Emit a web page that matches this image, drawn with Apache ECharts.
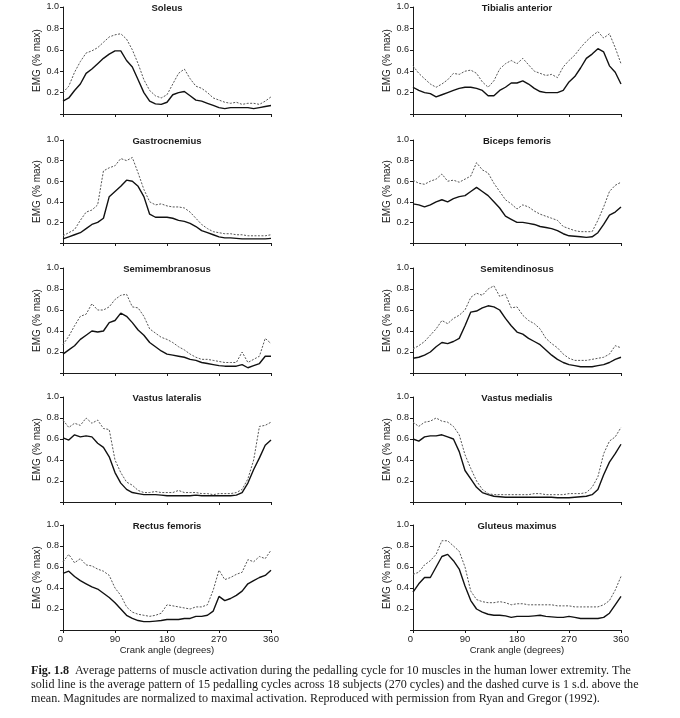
<!DOCTYPE html>
<html><head><meta charset="utf-8">
<script src="https://cdn.jsdelivr.net/npm/echarts@6/dist/echarts.min.js"></script>
<style>html,body{margin:0;padding:0;background:#fff}#c{width:680px;height:718px}</style>
</head><body><div id="c"></div>
<script>
// crank angles (degrees)
const angles = [0,10,20,30,40,50,60,70,80,90,100,110,120,130,140,150,160,170,180,190,200,210,220,230,240,250,260,270,280,290,300,310,320,330,340,350,360];
const xTicks = [0,90,180,270,360];
const yTicks = [0.2,0.4,0.6,0.8,1.0];

const soleusMean = [0.12,0.15,0.22,0.28,0.38,0.42,0.47,0.52,0.56,0.59, 0.59,0.50,0.44,0.32,0.20,0.12,0.095,0.09,0.11,0.18, 0.20,0.21,0.17,0.13,0.12,0.10,0.08,0.06,0.05,0.06, 0.06,0.06,0.06,0.05,0.06,0.07,0.08];
const soleusSD = [0.20,0.26,0.39,0.49,0.57,0.59,0.62,0.67,0.72,0.74, 0.75,0.70,0.60,0.47,0.32,0.22,0.17,0.15,0.18,0.28, 0.38,0.42,0.33,0.26,0.24,0.20,0.15,0.13,0.11,0.10, 0.11,0.09,0.10,0.10,0.09,0.12,0.16];

const tibialisMean = [0.25,0.22,0.20,0.19,0.16,0.18,0.20,0.22,0.24,0.25, 0.25,0.24,0.22,0.17,0.17,0.22,0.25,0.29,0.29,0.31, 0.28,0.24,0.21,0.20,0.20,0.20,0.22,0.30,0.35,0.43, 0.52,0.56,0.61,0.58,0.45,0.39,0.28];
const tibialisSD = [0.45,0.38,0.33,0.28,0.25,0.28,0.32,0.38,0.37,0.40, 0.41,0.38,0.30,0.25,0.31,0.42,0.47,0.50,0.47,0.52, 0.46,0.40,0.38,0.36,0.37,0.34,0.44,0.50,0.55,0.62, 0.68,0.73,0.77,0.71,0.75,0.62,0.47];

const gastrocMean = [0.04,0.06,0.08,0.10,0.14,0.18,0.20,0.24,0.45,0.50, 0.55,0.61,0.60,0.55,0.45,0.28,0.25,0.25,0.25,0.24, 0.22,0.21,0.19,0.16,0.12,0.10,0.08,0.06,0.05,0.05, 0.045,0.04,0.04,0.04,0.04,0.04,0.045];
const gastrocSD = [0.07,0.10,0.13,0.22,0.30,0.32,0.37,0.70,0.73,0.75, 0.82,0.80,0.83,0.68,0.52,0.40,0.37,0.38,0.36,0.35, 0.35,0.34,0.30,0.24,0.18,0.14,0.11,0.10,0.09,0.09, 0.08,0.08,0.07,0.07,0.07,0.07,0.08];

const bicepsMean = [0.38,0.37,0.35,0.37,0.40,0.42,0.40,0.43,0.45,0.46, 0.50,0.54,0.50,0.46,0.40,0.34,0.26,0.23,0.20,0.20, 0.19,0.18,0.16,0.15,0.14,0.12,0.09,0.07,0.065,0.06, 0.055,0.06,0.10,0.18,0.27,0.30,0.35];
const bicepsSD = [0.61,0.58,0.57,0.60,0.62,0.67,0.60,0.61,0.59,0.62, 0.65,0.78,0.71,0.68,0.58,0.50,0.42,0.38,0.33,0.37, 0.35,0.31,0.28,0.26,0.24,0.22,0.16,0.14,0.12,0.11, 0.11,0.11,0.22,0.35,0.50,0.56,0.59];

const semimemMean = [0.18,0.22,0.26,0.32,0.36,0.40,0.39,0.40,0.48,0.50, 0.57,0.54,0.48,0.41,0.36,0.29,0.25,0.21,0.18,0.17, 0.16,0.15,0.13,0.12,0.10,0.09,0.08,0.07,0.065,0.065, 0.065,0.08,0.05,0.07,0.09,0.16,0.16];
const semimemSD = [0.27,0.35,0.45,0.54,0.56,0.66,0.60,0.60,0.63,0.70, 0.74,0.75,0.63,0.62,0.54,0.42,0.38,0.34,0.32,0.29, 0.25,0.22,0.18,0.15,0.13,0.13,0.12,0.11,0.10,0.10, 0.10,0.20,0.10,0.13,0.16,0.33,0.28];

const semitenMean = [0.14,0.15,0.17,0.20,0.25,0.29,0.28,0.30,0.33,0.45, 0.58,0.59,0.62,0.64,0.63,0.60,0.52,0.45,0.39,0.37, 0.33,0.30,0.27,0.22,0.17,0.13,0.10,0.08,0.07,0.06, 0.06,0.06,0.07,0.08,0.10,0.13,0.15];
const semitenSD = [0.23,0.26,0.30,0.36,0.42,0.50,0.47,0.52,0.55,0.60, 0.72,0.76,0.74,0.80,0.83,0.73,0.75,0.62,0.63,0.55, 0.50,0.47,0.42,0.33,0.28,0.24,0.18,0.14,0.12,0.12, 0.12,0.13,0.14,0.15,0.18,0.26,0.24];

const vlatMean = [0.61,0.59,0.64,0.62,0.63,0.62,0.56,0.52,0.43,0.28, 0.18,0.12,0.09,0.08,0.07,0.07,0.07,0.065,0.06,0.06, 0.06,0.06,0.06,0.065,0.06,0.06,0.06,0.06,0.06,0.06, 0.065,0.09,0.18,0.31,0.42,0.54,0.59];
const vlatSD = [0.78,0.71,0.75,0.73,0.80,0.75,0.78,0.70,0.69,0.40, 0.28,0.19,0.16,0.11,0.09,0.09,0.10,0.09,0.09,0.09, 0.11,0.09,0.09,0.09,0.08,0.08,0.07,0.08,0.08,0.08, 0.09,0.12,0.22,0.40,0.72,0.73,0.76];

const vmedMean = [0.60,0.58,0.62,0.63,0.63,0.64,0.62,0.60,0.48,0.30, 0.22,0.14,0.09,0.07,0.055,0.05,0.045,0.045,0.045,0.045, 0.045,0.045,0.045,0.045,0.045,0.04,0.04,0.04,0.045,0.05, 0.055,0.07,0.12,0.26,0.38,0.46,0.55];
const vmedSD = [0.76,0.72,0.76,0.77,0.80,0.77,0.76,0.72,0.64,0.45, 0.32,0.20,0.12,0.08,0.07,0.07,0.07,0.07,0.07,0.07, 0.07,0.08,0.08,0.07,0.07,0.07,0.07,0.08,0.08,0.08, 0.09,0.14,0.24,0.46,0.58,0.62,0.71];

const rectusMean = [0.54,0.56,0.51,0.47,0.44,0.41,0.39,0.35,0.31,0.26, 0.20,0.14,0.11,0.09,0.08,0.08,0.085,0.09,0.10,0.10, 0.10,0.11,0.11,0.13,0.13,0.14,0.18,0.32,0.28,0.30, 0.33,0.37,0.44,0.47,0.50,0.52,0.57];
const rectusSD = [0.65,0.72,0.64,0.68,0.62,0.61,0.58,0.56,0.52,0.40, 0.33,0.22,0.17,0.15,0.14,0.13,0.14,0.16,0.24,0.23, 0.22,0.21,0.20,0.22,0.22,0.24,0.38,0.57,0.48,0.50, 0.53,0.55,0.67,0.65,0.70,0.68,0.76];

const glutMean = [0.36,0.44,0.50,0.50,0.60,0.70,0.72,0.66,0.58,0.42, 0.28,0.20,0.17,0.15,0.14,0.14,0.135,0.12,0.13,0.13, 0.13,0.135,0.14,0.13,0.125,0.12,0.12,0.13,0.12,0.11, 0.11,0.11,0.11,0.12,0.16,0.24,0.32];
const glutSD = [0.53,0.55,0.62,0.66,0.72,0.85,0.85,0.80,0.75,0.60, 0.37,0.29,0.27,0.26,0.26,0.27,0.26,0.24,0.25,0.25, 0.24,0.24,0.24,0.24,0.24,0.23,0.23,0.23,0.22,0.22, 0.22,0.22,0.22,0.24,0.28,0.38,0.51];

const muscles = ['Soleus','Tibialis anterior','Gastrocnemius','Biceps femoris','Semimembranosus','Semitendinosus','Vastus lateralis','Vastus medialis','Rectus femoris','Gluteus maximus'];
const meanSeries = [soleusMean,tibialisMean,gastrocMean,bicepsMean,semimemMean,semitenMean,vlatMean,vmedMean,rectusMean,glutMean];
const sdSeries = [soleusSD,tibialisSD,gastrocSD,bicepsSD,semimemSD,semitenSD,vlatSD,vmedSD,rectusSD,glutSD];
const xName = 'Crank angle (degrees)';
const yName = 'EMG (% max)';
const captionLines = [
  '{b|Fig. 1.8}  Average patterns of muscle activation during the pedalling cycle for 10 muscles in the human lower extremity. The',
  'solid line is the average pattern of 15 pedalling cycles across 18 subjects (270 cycles) and the dashed curve is 1 s.d. above the',
  'mean. Magnitudes are normalized to maximal activation. Reproduced with permission from Ryan and Gregor (1992).'
];

// layout
const SANS = 'Liberation Sans, Arial, Helvetica, sans-serif';
const SERIF = 'Liberation Serif, Times New Roman, serif';
const colLeft = [63, 413];
const plotW = 208;
const rowTop = [7, 140, 268, 397, 525];
const rowH = [107, 103, 105, 105, 105];
const ink = '#1a1a1a';
const capSize = 12.1;

const grids = [], xAxes = [], yAxes = [], series = [], graphics = [];
muscles.forEach((name, i) => {
  const row = Math.floor(i / 2), col = i % 2;
  const bottom = row === 4;
  grids.push({left: colLeft[col], top: rowTop[row], width: plotW, height: rowH[row], containLabel: false});
  xAxes.push({
    gridIndex: i, type: 'value', min: xTicks[0], max: xTicks[xTicks.length - 1], interval: 90,
    axisLine: {show: true, onZero: false, lineStyle: {color: ink, width: 1}},
    axisTick: {show: true, length: 3, lineStyle: {color: ink, width: 1}},
    axisLabel: {show: bottom, fontSize: 9.5, color: ink, margin: 4, fontFamily: SANS, alignMinLabel: 'right'},
    splitLine: {show: false},
    name: bottom ? xName : '', nameLocation: 'middle', nameGap: 14,
    nameTextStyle: {fontSize: 9.5, color: ink, fontFamily: SANS}
  });
  yAxes.push({
    gridIndex: i, type: 'value', min: 0, max: yTicks[yTicks.length - 1], interval: 0.2,
    axisLine: {show: true, lineStyle: {color: ink, width: 1}},
    axisTick: {show: true, length: 3, lineStyle: {color: ink, width: 1}},
    axisLabel: {fontSize: 9, color: ink, margin: 4, fontFamily: SANS,
      formatter: v => (yTicks.some(t => Math.abs(t - v) < 1e-6) ? v.toFixed(1) : '')},
    splitLine: {show: false},
    name: yName, nameLocation: 'middle', nameGap: 20,
    nameTextStyle: {fontSize: 10, color: ink, fontFamily: SANS}
  });
  series.push({
    type: 'line', xAxisIndex: i, yAxisIndex: i, showSymbol: false, silent: true,
    data: angles.map((a, k) => [a, sdSeries[i][k]]),
    lineStyle: {color: '#555', width: 1, type: [2, 1.5]}
  });
  series.push({
    type: 'line', xAxisIndex: i, yAxisIndex: i, showSymbol: false, silent: true,
    data: angles.map((a, k) => [a, meanSeries[i][k]]),
    lineStyle: {color: '#111', width: 1.4}
  });
  graphics.push({
    type: 'text', x: colLeft[col] + plotW / 2, y: rowTop[row] + 1,
    style: {text: name, fontSize: 9.5, fontWeight: 'bold', fontFamily: SANS, fill: ink,
      align: 'center', verticalAlign: 'middle', textAlign: 'center', textVerticalAlign: 'middle'}
  });
});

const capY = [671, 685, 699];
captionLines.forEach((t, k) => {
  graphics.push({
    type: 'text', x: 31, y: capY[k],
    style: {text: t, fontSize: capSize, fontFamily: SERIF, fill: ink,
      align: 'left', verticalAlign: 'middle', textAlign: 'left', textVerticalAlign: 'middle',
      rich: {b: {fontSize: capSize, fontWeight: 'bold', fontFamily: SERIF, fill: ink}}}
  });
});

const chart = echarts.init(document.getElementById('c'), null, {renderer: 'canvas'});
chart.setOption({
  animation: false,
  backgroundColor: '#fff',
  grid: grids, xAxis: xAxes, yAxis: yAxes, series: series,
  graphic: graphics
});
</script></body></html>
